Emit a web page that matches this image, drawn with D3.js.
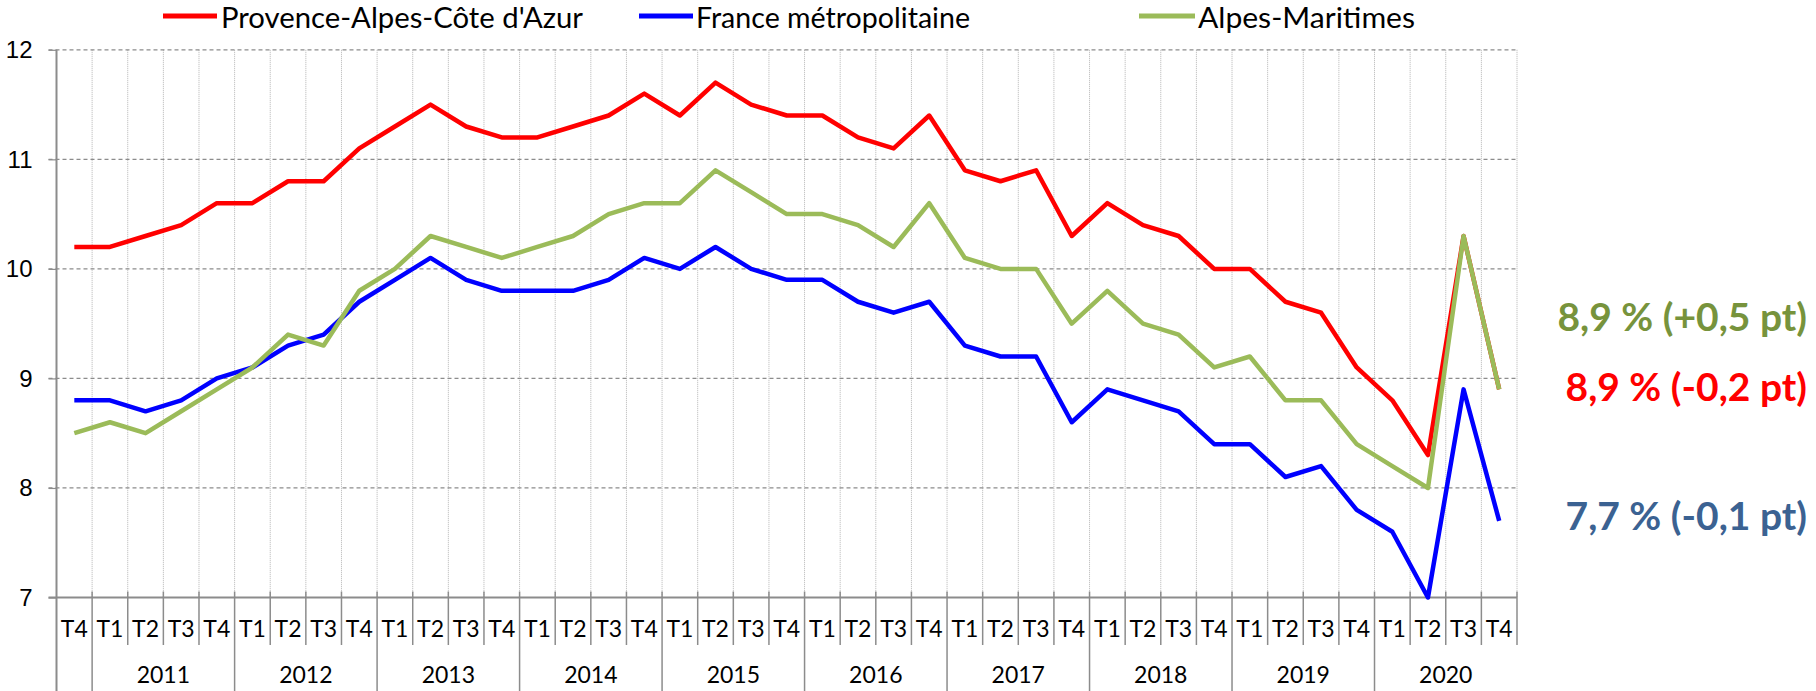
<!DOCTYPE html>
<html>
<head>
<meta charset="utf-8">
<script src="https://cdn.jsdelivr.net/npm/d3@7"></script>
<style>
  body { margin: 0; background: #fff; }
  svg { display: block; font-family: Lato, "Open Sans", sans-serif; }
</style>
</head>
<body>
<div id="chart"></div>
<script>
// quarters : T4 2010 then 2011..2020
var quarters = ["T4",
  "T1","T2","T3","T4", "T1","T2","T3","T4", "T1","T2","T3","T4", "T1","T2","T3","T4",
  "T1","T2","T3","T4", "T1","T2","T3","T4", "T1","T2","T3","T4", "T1","T2","T3","T4",
  "T1","T2","T3","T4", "T1","T2","T3","T4"];
var years = ["2011","2012","2013","2014","2015","2016","2017","2018","2019","2020"];

var paca = [10.2,
  10.2,10.3,10.4,10.6, 10.6,10.8,10.8,11.1, 11.3,11.5,11.3,11.2, 11.2,11.3,11.4,11.6,
  11.4,11.7,11.5,11.4, 11.4,11.2,11.1,11.4, 10.9,10.8,10.9,10.3, 10.6,10.4,10.3,10.0,
  10.0,9.7,9.6,9.1, 8.8,8.3,10.3,8.9];
var france = [8.8,
  8.8,8.7,8.8,9.0, 9.1,9.3,9.4,9.7, 9.9,10.1,9.9,9.8, 9.8,9.8,9.9,10.1,
  10.0,10.2,10.0,9.9, 9.9,9.7,9.6,9.7, 9.3,9.2,9.2,8.6, 8.9,8.8,8.7,8.4,
  8.4,8.1,8.2,7.8, 7.6,7.0,8.9,7.7];
var alpesMar = [8.5,
  8.6,8.5,8.7,8.9, 9.1,9.4,9.3,9.8, 10.0,10.3,10.2,10.1, 10.2,10.3,10.5,10.6,
  10.6,10.9,10.7,10.5, 10.5,10.4,10.2,10.6, 10.1,10.0,10.0,9.5, 9.8,9.5,9.4,9.1,
  9.2,8.8,8.8,8.4, 8.2,8.0,10.3,8.9];

var yTicks = [7, 8, 9, 10, 11, 12];

var series = [
  {name: "Provence-Alpes-Côte d'Azur", values: paca, color: "#ff0000"},
  {name: "France métropolitaine", values: france, color: "#0000ff"},
  {name: "Alpes-Maritimes", values: alpesMar, color: "#9bbb59"}
];

var notes = [
  {text: "8,9 % (+0,5 pt)", value: 9.56, color: "#77933c"},
  {text: "8,9 % (-0,2 pt)", value: 8.92, color: "#ff0000"},
  {text: "7,7 % (-0,1 pt)", value: 7.74, color: "#3b6292"}
];

var width = 1816, height = 691;
var plotLeft = 56.5, plotRight = 1517, plotTop = 49.8, plotBottom = 597.5;

var svg = d3.select("#chart").append("svg")
    .attr("width", width)
    .attr("height", height);

var x = d3.scaleBand()
    .domain(d3.range(quarters.length))
    .range([plotLeft, plotRight])
    .padding(0);

var y = d3.scaleLinear()
    .domain([7, 12])
    .range([plotBottom, plotTop]);

// vertical dotted grid at category boundaries
var bounds = d3.range(quarters.length + 1).map(function(i) {
  return i < quarters.length ? x(i) : plotRight;
});
svg.append("g").selectAll("line")
    .data(bounds.slice(1))
  .enter().append("line")
    .attr("x1", function(d) { return d; })
    .attr("x2", function(d) { return d; })
    .attr("y1", plotTop)
    .attr("y2", plotBottom)
    .attr("stroke", "#b4b4b4")
    .attr("stroke-width", 1)
    .attr("stroke-dasharray", "1,1");

// horizontal dashed grid
svg.append("g").selectAll("line")
    .data(yTicks.slice(1))
  .enter().append("line")
    .attr("x1", plotLeft - 8)
    .attr("x2", plotRight)
    .attr("y1", function(d) { return y(d); })
    .attr("y2", function(d) { return y(d); })
    .attr("stroke", "#8c8c8c")
    .attr("stroke-width", 1.2)
    .attr("stroke-dasharray", "4,3");

// y axis
var yAxis = svg.append("g")
    .attr("transform", "translate(" + plotLeft + ",0)")
    .call(d3.axisLeft(y).tickValues(yTicks).tickFormat(d3.format("d")).tickSize(8).tickPadding(16));
yAxis.select(".domain").remove();
yAxis.selectAll(".tick line").attr("stroke", "#8c8c8c").attr("stroke-width", 1.2);
yAxis.selectAll("text").attr("font-size", 24).attr("fill", "#000");

svg.append("line")
    .attr("x1", plotLeft).attr("x2", plotLeft)
    .attr("y1", plotTop).attr("y2", height)
    .attr("stroke", "#8c8c8c").attr("stroke-width", 2);

// x axis line
svg.append("line")
    .attr("x1", plotLeft - 8).attr("x2", plotRight)
    .attr("y1", plotBottom).attr("y2", plotBottom)
    .attr("stroke", "#8c8c8c").attr("stroke-width", 2);

// separators below the axis
svg.append("g").selectAll("line")
    .data(d3.range(1, quarters.length + 1))
  .enter().append("line")
    .attr("x1", function(i) { return bounds[i]; })
    .attr("x2", function(i) { return bounds[i]; })
    .attr("y1", plotBottom - 6)
    .attr("y2", function(i) { return (i - 1) % 4 === 0 && i < quarters.length ? height : 645; })
    .attr("stroke", "#8c8c8c")
    .attr("stroke-width", 1.5);

// quarter labels
svg.append("g").selectAll("text")
    .data(quarters)
  .enter().append("text")
    .attr("x", function(d, i) { return x(i) + x.bandwidth() / 2; })
    .attr("y", 629)
    .attr("dy", "0.35em")
    .attr("text-anchor", "middle")
    .attr("font-size", 23)
    .text(function(d) { return d; });

// year labels
svg.append("g").selectAll("text")
    .data(years)
  .enter().append("text")
    .attr("x", function(d, i) { return x(1 + i * 4) + x.bandwidth() * 2; })
    .attr("y", 675)
    .attr("dy", "0.35em")
    .attr("text-anchor", "middle")
    .attr("font-size", 23)
    .text(function(d) { return d; });

// lines
var line = d3.line()
    .x(function(d, i) { return x(i) + x.bandwidth() / 2; })
    .y(function(d) { return y(d); });

svg.append("g").selectAll("path")
    .data(series)
  .enter().append("path")
    .attr("d", function(d) { return line(d.values); })
    .attr("fill", "none")
    .attr("stroke", function(d) { return d.color; })
    .attr("stroke-width", 4.5)
    .attr("stroke-linejoin", "round");

// legend
var legendPos = [
  {x1: 163, x2: 217, tx: 221, tw: 362},
  {x1: 639, x2: 693, tx: 696, tw: 274},
  {x1: 1139, x2: 1195, tx: 1198, tw: 217}
];
var legend = svg.append("g").selectAll("g")
    .data(series)
  .enter().append("g");
legend.append("line")
    .attr("x1", function(d, i) { return legendPos[i].x1; })
    .attr("x2", function(d, i) { return legendPos[i].x2; })
    .attr("y1", 16).attr("y2", 16)
    .attr("stroke", function(d) { return d.color; })
    .attr("stroke-width", 5);
legend.append("text")
    .attr("x", function(d, i) { return legendPos[i].tx; })
    .attr("y", 18)
    .attr("dy", "0.35em")
    .attr("font-size", 29)
    .attr("textLength", function(d, i) { return legendPos[i].tw; })
    .attr("lengthAdjust", "spacingAndGlyphs")
    .text(function(d) { return d.name; });

// annotations at the right
svg.append("g").selectAll("text")
    .data(notes)
  .enter().append("text")
    .attr("x", 1807)
    .attr("y", function(d) { return y(d.value); })
    .attr("dy", "0.35em")
    .attr("text-anchor", "end")
    .attr("font-size", 39)
    .attr("font-weight", "bold")
    .attr("fill", function(d) { return d.color; })
    .text(function(d) { return d.text; });
</script>
</body>
</html>
